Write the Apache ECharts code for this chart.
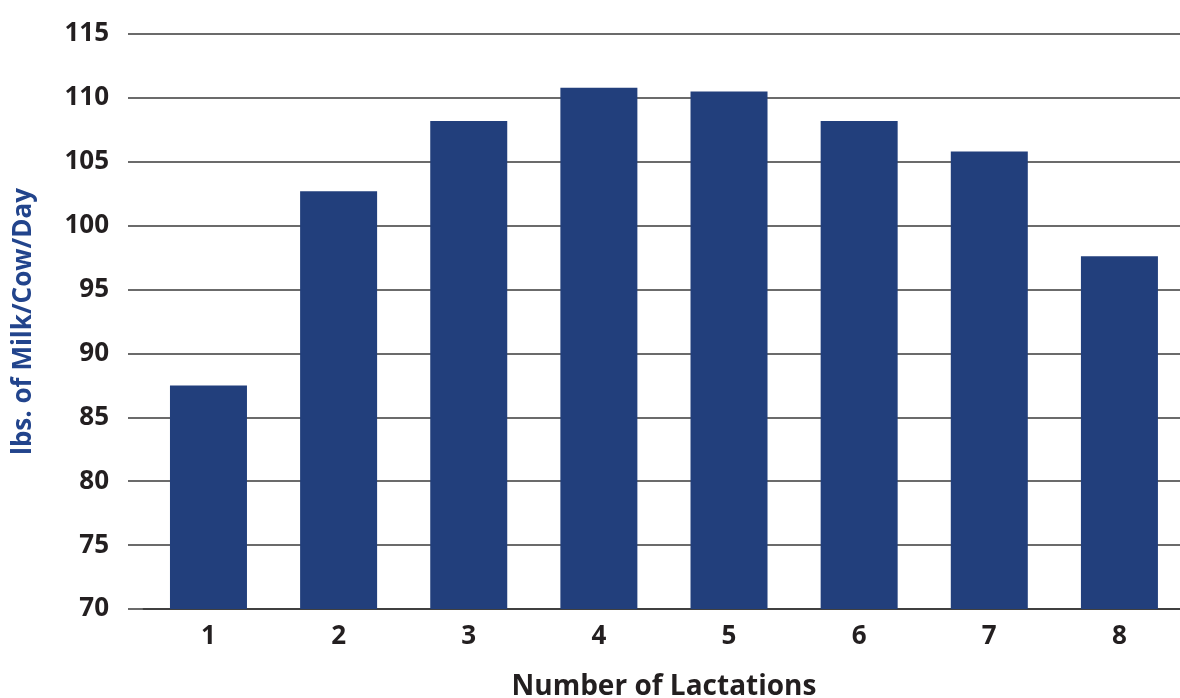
<!DOCTYPE html>
<html>
<head>
<meta charset="utf-8">
<script src="https://cdn.jsdelivr.net/npm/echarts@6/dist/echarts.min.js"></script>
<style>
  html, body { margin: 0; padding: 0; background: #ffffff; }
  #chart { width: 1180px; height: 698px; }
</style>
</head>
<body>
<div id="chart"></div>
<script>
// Average daily milk yield by lactation number
const lactations = ['1', '2', '3', '4', '5', '6', '7', '8'];
const milkPerCowPerDay = [87.5, 102.7, 108.2, 110.8, 110.5, 108.2, 105.8, 97.6];
const yMin = 70;
const yMax = 115;
const yStep = 5;

const barColor = '#223f7c';
const inkColor = '#231f20';
const titleBlue = '#22448c';
const fontFamily = '"Open Sans", Lato, sans-serif';

const chart = echarts.init(document.getElementById('chart'), null, { renderer: 'canvas' });

chart.setOption({
  animation: false,
  backgroundColor: '#ffffff',
  grid: [
    // gridlines and value labels span the full width
    { left: 128, right: -10, top: 34, bottom: 89, containLabel: false, outerBoundsMode: 'none' },
    // category band for the bars
    { left: 143.4, width: 1041.1, top: 34, bottom: 89, containLabel: false, outerBoundsMode: 'none' }
  ],
  xAxis: [
    { type: 'value', gridIndex: 0, show: false, min: 0, max: 1 },
    {
      type: 'category',
      gridIndex: 1,
      data: lactations,
      axisLine: { show: true, lineStyle: { color: '#333333', width: 1.5 } },
      axisTick: { show: false },
      axisLabel: {
        margin: 15,
        color: inkColor,
        fontFamily: fontFamily,
        fontWeight: 'bold',
        fontSize: 26
      },
      name: 'Number of Lactations',
      nameLocation: 'middle',
      nameGap: 64,
      nameTextStyle: {
        color: inkColor,
        fontFamily: fontFamily,
        fontWeight: 'bold',
        fontSize: 28
      }
    }
  ],
  yAxis: [
    {
      type: 'value',
      gridIndex: 0,
      min: yMin,
      max: yMax,
      interval: yStep,
      axisLine: { show: false },
      axisTick: { show: false },
      splitLine: { show: true, lineStyle: { color: '#3a3a3a', width: 1.5 } },
      axisLabel: {
        margin: 19,
        color: inkColor,
        fontFamily: fontFamily,
        fontWeight: 'bold',
        fontSize: 26
      },
      name: 'lbs. of Milk/Cow/Day',
      nameLocation: 'middle',
      nameGap: 91,
      nameRotate: 90,
      nameTextStyle: {
        color: titleBlue,
        fontFamily: fontFamily,
        fontWeight: 'bold',
        fontSize: 26
      }
    },
    {
      type: 'value',
      gridIndex: 1,
      min: yMin,
      max: yMax,
      interval: yStep,
      show: false,
      splitLine: { show: false }
    }
  ],
  series: [
    {
      type: 'bar',
      xAxisIndex: 1,
      yAxisIndex: 1,
      data: milkPerCowPerDay,
      barWidth: 77,
      itemStyle: { color: barColor },
      z: 3
    }
  ]
});
</script>
</body>
</html>
